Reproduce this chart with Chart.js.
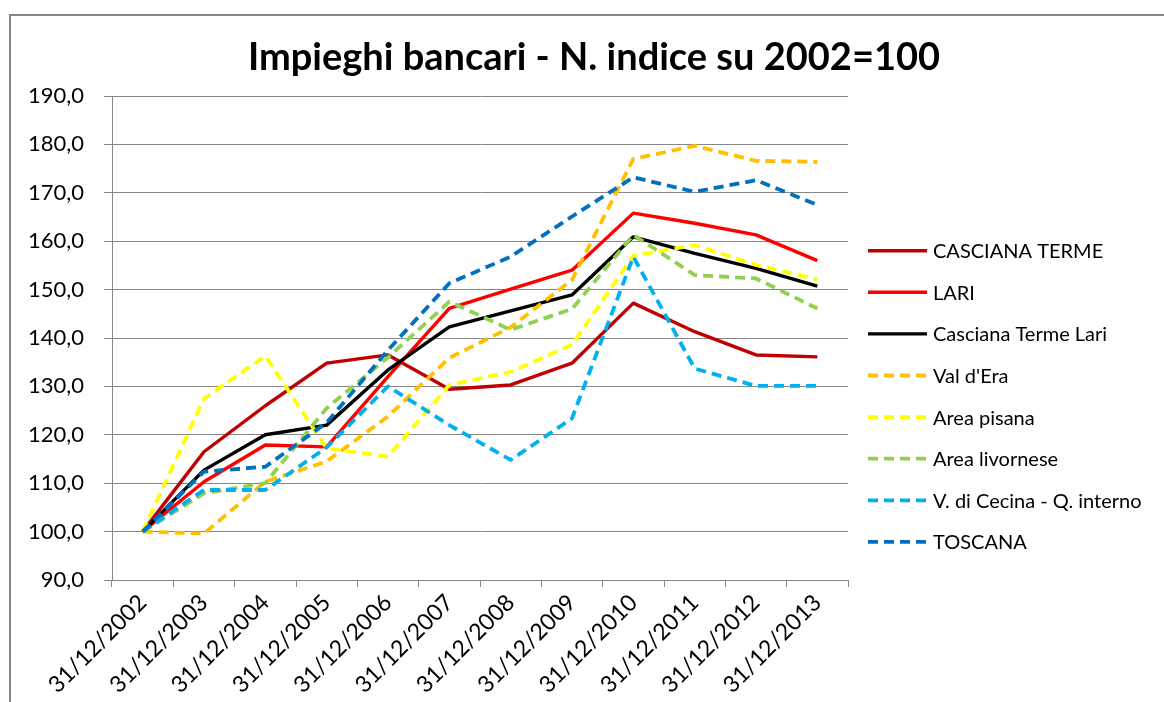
<!DOCTYPE html>
<html>
<head>
<meta charset="utf-8">
<script src="https://cdn.jsdelivr.net/npm/chart.js@4.4.1/dist/chart.umd.min.js"></script>
<style>
  html, body { margin: 0; padding: 0; background: #ffffff; }
  #wrap { width: 1164px; height: 702px; position: relative; }
  canvas { display: block; }
</style>
</head>
<body>
<div id="wrap"><canvas id="c" width="1164" height="702"></canvas></div>
<script>
// ---- Data ----
const categories = ["31/12/2002","31/12/2003","31/12/2004","31/12/2005","31/12/2006","31/12/2007",
                    "31/12/2008","31/12/2009","31/12/2010","31/12/2011","31/12/2012","31/12/2013"];
const seriesNames = ["CASCIANA TERME","LARI","Casciana Terme Lari","Val d'Era","Area pisana",
                     "Area livornese","V. di Cecina - Q. interno","TOSCANA"];
const cascianaTerme = [100, 116.5, 126.0, 134.8, 136.5, 129.4, 130.3, 134.8, 147.2, 141.3, 136.5, 136.1];
const lari          = [100, 110.3, 117.9, 117.5, 132.0, 146.1, 150.1, 154.0, 165.8, 163.7, 161.3, 156.0];
const cascianaLari  = [100, 112.7, 120.0, 122.0, 133.4, 142.3, 145.6, 148.9, 160.9, 157.5, 154.4, 150.7];
const valDEra       = [100,  99.6, 110.3, 114.5, 123.8, 135.9, 142.2, 152.0, 177.0, 179.7, 176.6, 176.4];
const areaPisana    = [100, 127.5, 136.3, 117.2, 115.5, 130.3, 133.0, 138.6, 157.0, 159.2, 155.1, 152.1];
const areaLivornese = [100, 107.9, 110.0, 125.5, 136.0, 147.5, 141.7, 146.0, 161.3, 153.0, 152.3, 146.1];
const cecina        = [100, 108.6, 108.6, 117.4, 130.0, 122.0, 114.8, 123.4, 156.8, 133.7, 130.1, 130.1];
const toscana       = [100, 112.4, 113.4, 122.5, 137.5, 151.3, 156.8, 165.1, 173.2, 170.2, 172.6, 167.5];
const yTicks = [90, 100, 110, 120, 130, 140, 150, 160, 170, 180, 190];
const titleText = "Impieghi bancari - N. indice su 2002=100";

// ---- Styles ----
const seriesValues = [cascianaTerme, lari, cascianaLari, valDEra, areaPisana, areaLivornese, cecina, toscana];
const seriesColors = ["#C00000","#FF0000","#000000","#FFC000","#FFFF00","#92D050","#00B0F0","#0070C0"];
const seriesDashed = [false,false,false,true,true,true,true,true];
const GRID = "#868686";

const datasets = seriesValues.map((vals, i) => ({
  label: seriesNames[i],
  data: vals,
  borderColor: seriesColors[i],
  backgroundColor: seriesColors[i],
  borderWidth: seriesDashed[i] ? 3.8 : 3.4,
  borderDash: seriesDashed[i] ? [10, 6] : [],
  borderCapStyle: 'butt',
  borderJoinStyle: 'round',
  pointRadius: 0,
  pointHoverRadius: 0,
  tension: 0,
  fill: false,
  order: seriesValues.length - 1 - i
}));

const decorPlugin = {
  id: 'decor',
  beforeDraw(chart) {
    const ctx = chart.ctx;
    ctx.save();
    ctx.fillStyle = '#ffffff';
    ctx.fillRect(0, 0, chart.width, chart.height);
    ctx.strokeStyle = GRID;
    ctx.lineWidth = 2;
    ctx.strokeRect(10, 15, chart.width + 20, chart.height + 20);
    ctx.restore();
  },
  afterDraw(chart) {
    const ctx = chart.ctx;
    ctx.save();
    // title
    ctx.fillStyle = '#000000';
    ctx.font = 'bold 38px Lato';
    ctx.textAlign = 'center';
    ctx.textBaseline = 'alphabetic';
    ctx.fillText(titleText, 594, 70);
    // legend
    ctx.font = '20px Lato';
    ctx.textAlign = 'left';
    ctx.textBaseline = 'middle';
    chart.data.datasets.forEach((ds, i) => {
      const y = 250.7 + i * 41.6;
      ctx.beginPath();
      ctx.strokeStyle = ds.borderColor;
      ctx.lineWidth = ds.borderWidth;
      ctx.setLineDash(ds.borderDash);
      ctx.lineCap = 'butt';
      ctx.moveTo(868, y);
      ctx.lineTo(927, y);
      ctx.stroke();
      ctx.setLineDash([]);
      ctx.fillStyle = '#000000';
      ctx.fillText(ds.label, 933, y + 1);
    });
    ctx.restore();
  }
};

function build() {
  new Chart(document.getElementById('c'), {
    type: 'line',
    data: { labels: categories, datasets: datasets },
    options: {
      responsive: false,
      animation: false,
      devicePixelRatio: 1,
      layout: { padding: { left: 0, top: 96, right: 316, bottom: 0 } },
      plugins: {
        legend: { display: false },
        title: { display: false },
        tooltip: { enabled: false }
      },
      scales: {
        x: {
          type: 'category',
          offset: true,
          grid: {
            offset: true,
            drawOnChartArea: false,
            drawTicks: true,
            tickLength: 7,
            color: GRID,
            lineWidth: 1
          },
          border: { color: GRID, width: 1 },
          ticks: {
            autoSkip: false,
            maxRotation: 45,
            minRotation: 45,
            padding: 2,
            color: '#000000',
            font: { family: 'Lato', size: 23 }
          },
          afterFit(scale) { scale.height = 122; }
        },
        y: {
          min: yTicks[0],
          max: yTicks[yTicks.length - 1],
          afterBuildTicks(scale) { scale.ticks = yTicks.map(v => ({ value: v })); },
          grid: {
            color: GRID,
            lineWidth: 1,
            drawTicks: true,
            tickLength: 8
          },
          border: { color: GRID, width: 1 },
          ticks: {
            padding: 20,
            color: '#000000',
            font: { family: 'Lato', size: 22 },
            callback: (v) => Number(v).toFixed(1).replace('.', ',')
          },
          afterFit(scale) { scale.width = 112; }
        }
      }
    },
    plugins: [decorPlugin]
  });
}

if (document.fonts && document.fonts.load) {
  Promise.all([
    document.fonts.load('22px Lato'),
    document.fonts.load('bold 38px Lato')
  ]).then(build, build);
} else {
  build();
}
</script>
</body>
</html>
